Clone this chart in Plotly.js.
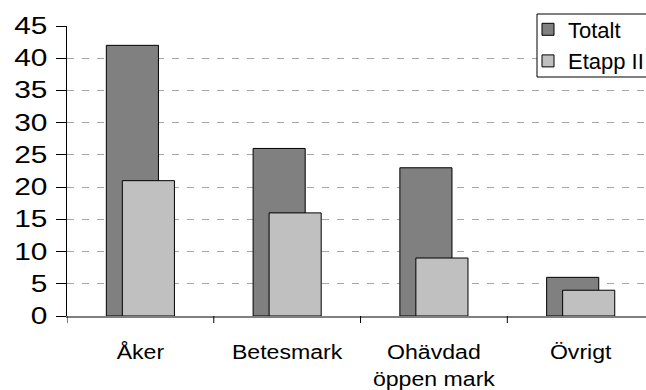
<!DOCTYPE html>
<html>
<head>
<meta charset="utf-8">
<script src="https://cdn.plot.ly/plotly-3.0.1.min.js"></script>
<style>
  html, body { margin: 0; padding: 0; background: #ffffff; }
  #chart { width: 646px; height: 390px; }
</style>
</head>
<body>
<div id="chart"></div>
<script>
// Markslag (hektar): totalt och för etapp II
const categories = ['Åker', 'Betesmark', 'Ohävdad<br>öppen mark', 'Övrigt'];
const totalt = [42, 26, 23, 6];
const etappII = [21, 16, 9, 4];
const yTicks = [0, 5, 10, 15, 20, 25, 30, 35, 40, 45];

const font = 'Liberation Sans, Arial, sans-serif';
const xIdx = categories.map((_, i) => i);

// plot area in pixels
const PLOT_L = 67, PLOT_T = 26, PLOT_B = 316, W = 646, H = 390;
const plotH = PLOT_B - PLOT_T;

const traces = [
  {
    type: 'bar', name: 'Totalt', x: xIdx, y: totalt,
    width: 0.355, offset: -0.232,
    marker: { color: '#808080', line: { color: '#000000', width: 1 } },
    hoverinfo: 'y'
  },
  {
    type: 'bar', name: 'Etapp II', x: xIdx, y: etappII,
    width: 0.355, offset: -0.123,
    marker: { color: '#c0c0c0', line: { color: '#000000', width: 1 } },
    hoverinfo: 'y'
  }
];

const shapes = xIdx.concat([xIdx.length]).map(i => ({
  // category separators below the axis
  type: 'line', xref: 'x', yref: 'paper',
  x0: i - 0.5, x1: i - 0.5, y0: 0, y1: -7 / plotH,
  line: { color: '#000000', width: 1 }
}));

// legend frame
shapes.push({
  type: 'rect', xref: 'paper', yref: 'paper', layer: 'above',
  x0: (537 - PLOT_L) / (W - PLOT_L), x1: (W + 20 - PLOT_L) / (W - PLOT_L),
  y0: (PLOT_B - 77) / plotH, y1: (PLOT_B - 14) / plotH,
  fillcolor: '#ffffff', line: { color: '#000000', width: 1 }
});

const layout = {
  width: W, height: H,
  margin: { l: PLOT_L, r: 0, t: PLOT_T, b: H - PLOT_B, pad: 0, autoexpand: false },
  paper_bgcolor: '#ffffff', plot_bgcolor: '#ffffff',
  barmode: 'overlay',
  showlegend: true,
  font: { family: font, color: '#000000', size: 20 },
  xaxis: {
    range: [-0.5, 3.445],
    tickmode: 'array',
    tickvals: xIdx,
    ticktext: categories,
    ticks: '', showgrid: false, zeroline: false,
    showline: true, linecolor: '#808080', linewidth: 2,
    ticklabelstandoff: 16,
    tickfont: { family: font, size: 21, color: '#000000' },
    fixedrange: true
  },
  yaxis: {
    range: [0, 45],
    tickmode: 'array', tickvals: yTicks,
    ticks: 'outside', ticklen: 10, tickcolor: '#000000', tickwidth: 1,
    ticklabelstandoff: 4,
    showline: true, linecolor: '#000000', linewidth: 1,
    showgrid: true, gridcolor: '#a6a6a6', gridwidth: 1, griddash: '7px,8px',
    zeroline: false,
    tickfont: { family: font, size: 23, color: '#000000' },
    fixedrange: true
  },
  legend: {
    x: (528 - PLOT_L) / (W - PLOT_L), xref: 'paper', xanchor: 'left',
    y: (PLOT_B - 8.5) / plotH, yanchor: 'top',
    bgcolor: 'rgba(0,0,0,0)', borderwidth: 0,
    font: { family: font, size: 22, color: '#000000' },
    tracegroupgap: 0, itemwidth: 30
  },
  shapes: shapes
};

// widen tick labels horizontally around an anchor point of their box
function widen(selector, sx, anchor) {
  document.querySelectorAll(selector).forEach(el => {
    const b = el.getBBox();
    const ax = anchor === 'end' ? b.x + b.width : b.x + b.width / 2;
    const cy = b.y + b.height / 2;
    const t = el.getAttribute('transform') || '';
    el.setAttribute('transform',
      `${t} translate(${ax},${cy}) scale(${sx},1) translate(${-ax},${-cy})`);
  });
}

Plotly.newPlot('chart', traces, layout, { staticPlot: true, displayModeBar: false })
  .then(() => {
    widen('#chart .ytick text', 1.3, 'end');
    widen('#chart .xtick text', 1.1, 'middle');
  });
</script>
</body>
</html>
